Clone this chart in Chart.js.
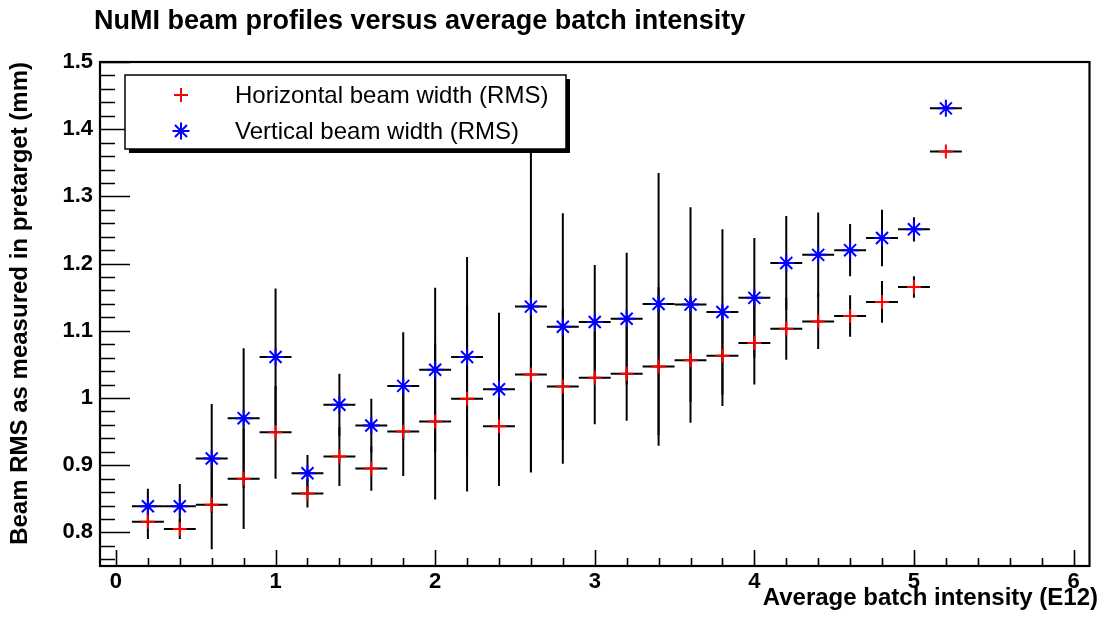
<!DOCTYPE html>
<html><head><meta charset="utf-8">
<script src="https://cdn.jsdelivr.net/npm/chart.js@4/dist/chart.umd.min.js"></script>
<style>html,body{margin:0;padding:0;background:#fff}#wrap{width:1100px;height:620px}</style>
</head><body><div id="wrap"><canvas id="c" width="1100" height="620"></canvas></div>
<script>
const chartTitle = 'NuMI beam profiles versus average batch intensity';
const xAxisTitle = 'Average batch intensity (E12)';
const yAxisTitle = 'Beam RMS as measured in pretarget (mm)';
const seriesNames = ['Horizontal beam width (RMS)', 'Vertical beam width (RMS)'];

const intensity = [0.2,0.4,0.6,0.8,1.0,1.2,1.4,1.6,1.8,2.0,2.2,2.4,2.6,2.8,3.0,3.2,3.4,3.6,3.8,4.0,4.2,4.4,4.6,4.8,5.0,5.2];
const binHalfWidth = 0.1;
const horizontalRMS = [0.816,0.805,0.841,0.880,0.949,0.858,0.913,0.895,0.950,0.965,0.999,0.958,1.035,1.017,1.030,1.036,1.047,1.056,1.063,1.082,1.103,1.114,1.122,1.143,1.165,1.367];
const horizontalErr = [0.026,0.015,0.066,0.075,0.069,0.021,0.044,0.033,0.066,0.116,0.138,0.089,0.145,0.115,0.069,0.070,0.118,0.093,0.075,0.062,0.046,0.041,0.031,0.031,0.016,0];
const verticalRMS = [0.839,0.839,0.910,0.970,1.061,0.888,0.990,0.959,1.018,1.042,1.061,1.013,1.136,1.106,1.113,1.118,1.140,1.139,1.128,1.149,1.201,1.213,1.220,1.238,1.251,1.431];
const verticalErr = [0.026,0.033,0.081,0.104,0.102,0.027,0.046,0.040,0.080,0.122,0.149,0.114,0.247,0.169,0.085,0.098,0.195,0.145,0.123,0.089,0.070,0.063,0.039,0.042,0.018,0];

const xTickValues = [0,1,2,3,4,5,6];
const xTickLabels = ['0','1','2','3','4','5','6'];
const yTickValues = [0.8,0.9,1.0,1.1,1.2,1.3,1.4,1.5];
const yTickLabels = ['0.8','0.9','1','1.1','1.2','1.3','1.4','1.5'];

const FONT = '"Liberation Sans", Arial, Helvetica, sans-serif';

function points(ys, errs) {
  return intensity.map((x, i) => ({x: x, y: ys[i], err: errs[i]}));
}

const errorBarPlugin = {
  id: 'errorBars',
  beforeDatasetsDraw(chart) {
    const {ctx, chartArea: a, scales: {x, y}} = chart;
    ctx.save();
    ctx.beginPath(); ctx.rect(a.left, a.top, a.right - a.left, a.bottom - a.top); ctx.clip();
    ctx.strokeStyle = '#000';
    ctx.lineWidth = 2;
    chart.data.datasets.forEach(ds => {
      ds.data.forEach(p => {
        const px = x.getPixelForValue(p.x), py = y.getPixelForValue(p.y);
        ctx.beginPath();
        ctx.moveTo(x.getPixelForValue(p.x - binHalfWidth), py);
        ctx.lineTo(x.getPixelForValue(p.x + binHalfWidth), py);
        if (p.err > 0) {
          ctx.moveTo(px, y.getPixelForValue(p.y - p.err));
          ctx.lineTo(px, y.getPixelForValue(p.y + p.err));
        }
        ctx.stroke();
      });
    });
    ctx.restore();
  }
};

const framePlugin = {
  id: 'frame',
  afterDatasetsDraw(chart) {
    const {ctx, chartArea: a, scales: {x, y}} = chart;
    ctx.save();
    ctx.strokeStyle = '#000';
    ctx.lineWidth = 1.6;
    ctx.beginPath();
    for (let k = 0; k <= 30; k++) {
      const v = k * 0.2;
      const px = Math.round(x.getPixelForValue(v)) + 0.5;
      const len = (k % 5 === 0) ? 16 : 8;
      ctx.moveTo(px, a.bottom); ctx.lineTo(px, a.bottom - len);
    }
    for (let k = 38; k <= 75; k++) {
      const v = k * 0.02;
      const py = Math.round(y.getPixelForValue(v)) + 0.5;
      const len = (k % 5 === 0) ? 30 : 15;
      ctx.moveTo(a.left, py); ctx.lineTo(a.left + len, py);
    }
    ctx.stroke();
    ctx.lineWidth = 2.2;
    ctx.strokeRect(a.left, a.top, a.right - a.left, a.bottom - a.top);
    ctx.restore();

    const lx = a.left + 25, ly = a.top + 13, lw = 441, lh = 74;
    ctx.save();
    ctx.fillStyle = '#000';
    ctx.fillRect(lx + 4, ly + 4, lw, lh);
    ctx.fillStyle = '#fff';
    ctx.fillRect(lx, ly, lw, lh);
    ctx.lineWidth = 1.5;
    ctx.strokeStyle = '#000';
    ctx.strokeRect(lx, ly, lw, lh);
    chart.data.datasets.forEach((ds, i) => {
      const cy = ly + 20 + i * 36;
      ctx.strokeStyle = ds.borderColor;
      ctx.fillStyle = 'rgba(0,0,0,0)';
      ctx.lineWidth = ds.pointBorderWidth;
      Chart.helpers.drawPoint(ctx, {pointStyle: ds.pointStyle, radius: ds.pointRadius, borderWidth: ds.pointBorderWidth, rotation: 0}, lx + 56, cy);
      ctx.fillStyle = '#000';
      ctx.font = '24px ' + FONT;
      ctx.textAlign = 'left';
      ctx.textBaseline = 'middle';
      ctx.fillText(ds.label, lx + 110, cy + 1);
    });
    ctx.restore();
  },
  afterDraw(chart) {
    const {ctx} = chart;
    ctx.save();
    ctx.fillStyle = '#000';
    ctx.font = 'bold 27px ' + FONT;
    ctx.textAlign = 'left';
    ctx.textBaseline = 'alphabetic';
    ctx.fillText(chartTitle, 94, 29);

    ctx.font = 'bold 24px ' + FONT;
    ctx.textAlign = 'right';
    ctx.fillText(xAxisTitle, 1098, 605);

    ctx.translate(27, 62);
    ctx.rotate(-Math.PI / 2);
    ctx.textAlign = 'right';
    ctx.fillText(yAxisTitle, 0, 0);
    ctx.restore();
  }
};

new Chart(document.getElementById('c'), {
  type: 'scatter',
  data: {
    datasets: [
      {label: seriesNames[0], data: points(horizontalRMS, horizontalErr), pointStyle: 'cross', pointRadius: 7, pointHoverRadius: 7, pointBorderWidth: 2, borderColor: '#ff0000', backgroundColor: '#ff0000', showLine: false},
      {label: seriesNames[1], data: points(verticalRMS, verticalErr), pointStyle: 'star', pointRadius: 8.5, pointHoverRadius: 8.5, pointBorderWidth: 2, borderColor: '#0000ff', backgroundColor: '#0000ff', showLine: false}
    ]
  },
  options: {
    responsive: false,
    devicePixelRatio: 1,
    animation: false,
    events: [],
    layout: {padding: {top: 62, right: 5, left: 0, bottom: 0}},
    plugins: {legend: {display: false}, title: {display: false}, tooltip: {enabled: false}},
    scales: {
      x: {
        type: 'linear', min: -0.1, max: 6.1,
        afterBuildTicks: s => { s.ticks = xTickValues.map(v => ({value: v})); },
        afterFit: s => { s.height = 54; },
        grid: {display: false, drawTicks: false},
        border: {display: false},
        ticks: {color: '#000', padding: 3, maxRotation: 0, autoSkip: false, font: {family: FONT, size: 22, weight: 'bold'},
          callback: (v, i) => xTickLabels[i]}
      },
      y: {
        type: 'linear', min: 0.75, max: 1.5,
        afterBuildTicks: s => { s.ticks = yTickValues.map(v => ({value: v})); },
        afterFit: s => { s.width = 100; },
        grid: {display: false, drawTicks: false},
        border: {display: false},
        ticks: {color: '#000', padding: 7, autoSkip: false, font: {family: FONT, size: 22, weight: 'bold'},
          callback: (v, i) => yTickLabels[i]}
      }
    }
  },
  plugins: [errorBarPlugin, framePlugin]
});
</script></body></html>
